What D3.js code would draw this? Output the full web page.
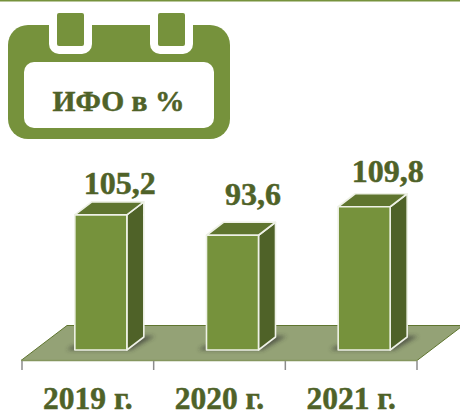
<!DOCTYPE html>
<html><head><meta charset="utf-8">
<script src="https://cdn.jsdelivr.net/npm/d3@7"></script>
<style>html,body{margin:0;padding:0;background:#fff}svg{display:block}text{font-family:"Liberation Serif",serif;font-weight:700}</style>
</head><body><div id="c"></div>
<script>
const categories = ["2019 г.", "2020 г.", "2021 г."];
const values = [105.2, 93.6, 109.8];
const valueLabels = ["105,2", "93,6", "109,8"];
const title = "ИФО в %";
const W = 460, H = 412;
const GREEN = "#76923c", DARK = "#4f6228", TOP = "#5f752f", FLOOR = "#94a276";
const svg = d3.select("#c").append("svg").attr("width", W).attr("height", H).attr("viewBox", `0 0 ${W} ${H}`);
const defs = svg.append("defs");
defs.append("filter").attr("id","blur").attr("x","-30%").attr("y","-100%").attr("width","160%").attr("height","300%")
  .append("feGaussianBlur").attr("stdDeviation",2.2);

// top rule
svg.append("rect").attr("x",0).attr("y",0).attr("width",W).attr("height",1.5).attr("fill",GREEN);

// calendar badge
const badge = svg.append("g");
badge.append("rect").attr("x",8).attr("y",25).attr("width",222).attr("height",114).attr("rx",20).attr("fill",GREEN);
badge.append("rect").attr("x",24).attr("y",62).attr("width",190).attr("height",66).attr("rx",10).attr("fill","#fff");
[[49,43],[150,43]].forEach(([x,w]) => {
  badge.append("path").attr("d",`M${x} 20V44a10 10 0 0 0 10 10H${x+w-10}a10 10 0 0 0 10-10V20Z`).attr("fill","#fff");
  badge.append("rect").attr("x",x+8).attr("y",13).attr("width",w-16).attr("height",33).attr("rx",2).attr("fill",GREEN);
});
badge.append("text").attr("x",118.5).attr("y",110.5).attr("text-anchor","middle").attr("font-size",29.5)
  .attr("fill",DARK).attr("stroke",DARK).attr("stroke-width",.5).text(title);

// scales
const baseY = 350, floorY = 360.5;
const x = d3.scaleBand().domain(categories).range([22,417]).padding(0);
const y = d3.scaleLinear().domain([28.4,120]).range([baseY, baseY-161.2]);
const barW = 52, dx = 17, dy = 13, shift = 13;
const left = c => x(c) + x.bandwidth()/2 - barW/2 + shift;
const labelDx = [19, 20.5, 23.5], labelBase = [21, 30, 25];

// floor
const fdx = 46, fdy = 35;
svg.append("path").attr("d",`M21 ${floorY}L${21+fdx} ${floorY-fdy}H${417+fdx}L417 ${floorY}Z`)
  .attr("fill",FLOOR).attr("stroke","#5f752f").attr("stroke-width",1);
svg.append("line").attr("x1",21).attr("x2",417).attr("y1",floorY).attr("y2",floorY).attr("stroke","#85965f").attr("stroke-width",1.5);

// category axis
const axG = svg.append("g").attr("transform",`translate(0,${floorY})`);
axG.selectAll(".sep").data(d3.range(categories.length+1)).join("line").attr("class","sep")
  .attr("x1",i=>22+i*x.step()).attr("x2",i=>22+i*x.step()).attr("y1",0.5).attr("y2",9.5)
  .attr("stroke","#8c8c8c").attr("stroke-width",1.5);
svg.selectAll(".cat").data(categories).join("text").attr("class","cat")
  .attr("x",c=>x(c)+x.bandwidth()/2).attr("y",409).attr("text-anchor","middle")
  .attr("font-size",31.5).attr("fill",DARK).attr("stroke",DARK).attr("stroke-width",.5).text(c=>c);

// bars
const rows = categories.map((c,i)=>({c,v:values[i],label:valueLabels[i],i}));
const bars = svg.selectAll(".bar").data(rows).join("g").attr("class","bar");
bars.append("path").attr("d",d=>{const l=left(d.c);return `M${l-8} ${baseY}H${l+barW+4}L${l+barW+dx+11} ${baseY-14}H${l+barW}V${baseY-4}H${l-2}Z`;})
  .attr("fill","#2e2e2e").attr("opacity",.62).attr("filter","url(#blur)");
const st = s => s.attr("stroke","#eef1e6").attr("stroke-width",1.6).attr("stroke-linejoin","round");
st(bars.append("path").attr("fill",DARK).attr("d",d=>{const l=left(d.c)+barW,t=y(d.v);return `M${l} ${t}l${dx} ${-dy}V${baseY-dy}l${-dx} ${dy}Z`;}));
st(bars.append("path").attr("fill",TOP).attr("d",d=>{const l=left(d.c),t=y(d.v);return `M${l} ${t}l${dx} ${-dy}H${l+barW+dx}l${-dx} ${dy}Z`;}));
st(bars.append("rect").attr("fill",GREEN).attr("x",d=>left(d.c)).attr("y",d=>y(d.v)).attr("width",barW).attr("height",d=>baseY-y(d.v)));
bars.append("text").attr("x",d=>left(d.c)+barW/2+labelDx[d.i]).attr("y",d=>y(d.v)-labelBase[d.i])
  .attr("text-anchor","middle").attr("font-size",32).attr("fill",DARK).attr("stroke",DARK).attr("stroke-width",.5).text(d=>d.label);
</script></body></html>
